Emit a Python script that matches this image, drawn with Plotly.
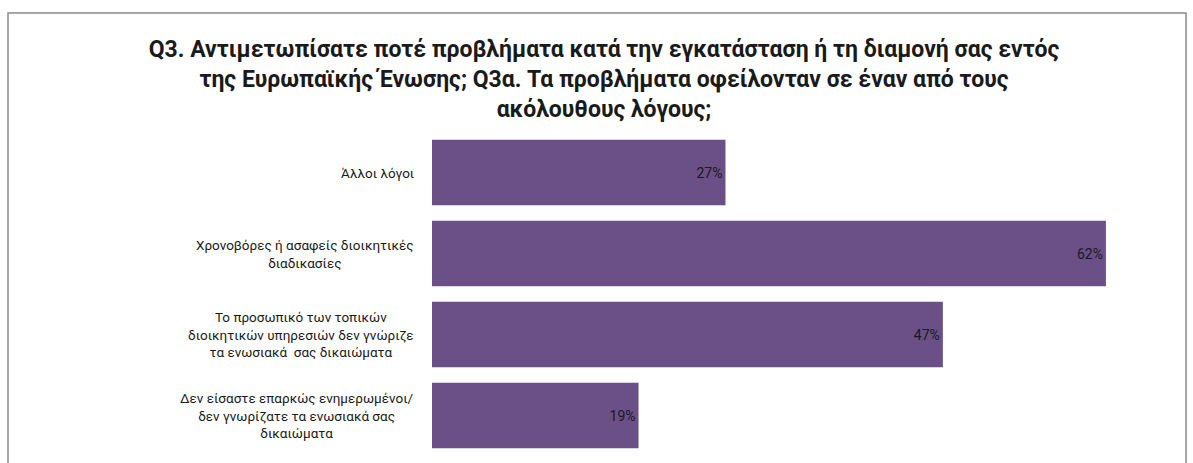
import plotly.graph_objects as go

categories = [
    "Άλλοι λόγοι",
    "Χρονοβόρες ή ασαφείς διοικητικές<br>διαδικασίες",
    "Το προσωπικό των τοπικών<br>διοικητικών υπηρεσιών δεν γνώριζε<br>τα ενωσιακά  σας δικαιώματα",
    "Δεν είσαστε επαρκώς ενημερωμένοι/<br>δεν γνωρίζατε τα ενωσιακά σας<br>δικαιώματα",
]
values = [27, 62, 47, 19]
value_labels = ["27%", "62%", "47%", "19%"]
title_text = ("Q3. Αντιμετωπίσατε ποτέ προβλήματα κατά την εγκατάσταση ή τη διαμονή σας εντός<br>"
              "της Ευρωπαϊκής Ένωσης; Q3α. Τα προβλήματα οφείλονταν σε έναν από τους<br>"
              "ακόλουθους λόγους;")

BAR_COLOR = "#6A5087"
FONT = "Roboto"

W, H = 1193, 463
ML, MR, MT, MB = 432, 11, 132, 7

fig = go.Figure()
fig.add_trace(go.Bar(
    x=values, y=list(range(len(categories))), orientation="h",
    marker=dict(color=BAR_COLOR, line=dict(width=0)),
    text=value_labels, textposition="inside", insidetextanchor="end",
    textfont=dict(family=FONT, size=14, color="#1a1a1a"),
    cliponaxis=False, hoverinfo="skip",
))

for i, c in enumerate(categories):
    fig.add_annotation(
        x=0, xref="paper", y=i, yref="y", text=c, showarrow=False,
        xanchor="right", yanchor="middle", align="center", xshift=-16,
        font=dict(family=FONT, size=13.5, color="#1a1a1a"),
    )

pw = W - ML - MR
ph = H - MT - MB
fig.add_shape(
    type="rect", xref="paper", yref="paper",
    x0=(8 - ML) / pw, x1=(1186 - ML) / pw,
    y0=-0.2, y1=(H - 13 - MB) / ph,
    line=dict(color="#8a8a8a", width=1.5), fillcolor="rgba(0,0,0,0)", layer="below",
)

fig.update_layout(
    width=W, height=H,
    margin=dict(l=ML, r=MR, t=MT, b=MB),
    paper_bgcolor="white", plot_bgcolor="white",
    bargap=0.19, showlegend=False,
    title=dict(text=title_text, x=604 / W, xanchor="center", xref="container",
               y=1 - 57 / H, yanchor="top", yref="container",
               font=dict(family=FONT, size=23, color="#1a1a1a", weight="bold")),
    xaxis=dict(range=[0, 69], visible=False, fixedrange=True),
    yaxis=dict(range=[len(categories) - 0.5, -0.5], visible=False, fixedrange=True),
)

fig.write_html("out.html", config={"displayModeBar": False},
               post_script="document.body.style.margin='0';document.body.style.overflow='hidden';")
